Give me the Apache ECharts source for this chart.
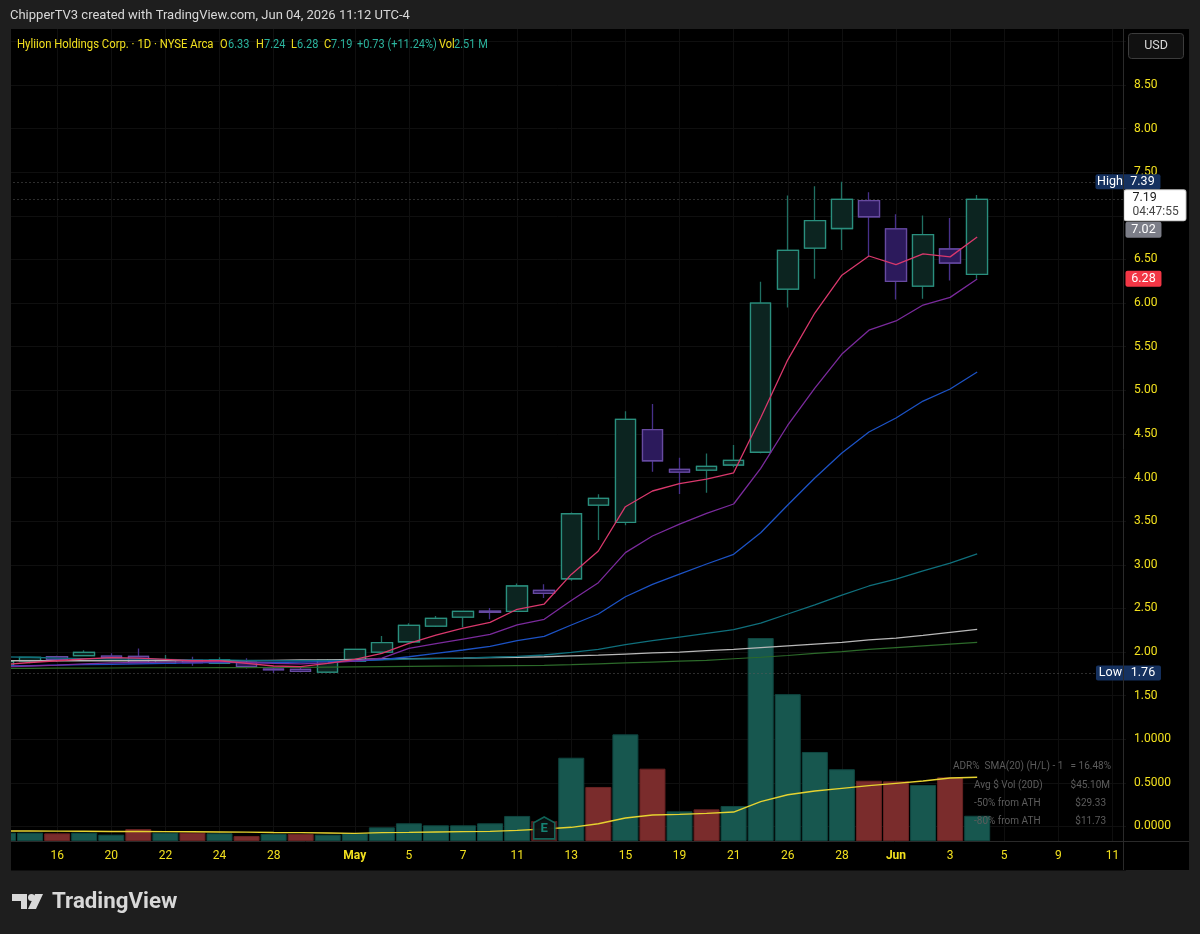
<!DOCTYPE html>
<html>
<head>
<meta charset="utf-8">
<style>html,body{margin:0;padding:0;background:#1e1e1e;overflow:hidden;width:1200px;height:934px}#c{position:absolute;left:-20px;top:-10px;width:1220px;height:944px}</style>
<script src="https://cdn.jsdelivr.net/npm/echarts@6/dist/echarts.min.js"></script>
</head>
<body>
<div id="c"></div>
<script>
// Sessions, including the empty ones to the right of the last candle
const categories = ['04-14','04-15','04-16','04-17','04-20','04-21','04-22','04-23','04-24','04-27','04-28','04-29','04-30','05-01','05-04','05-05','05-06','05-07','05-08','05-11','05-12','05-13','05-14','05-15','05-18','05-19','05-20','05-21','05-22','05-26','05-27','05-28','05-29','06-01','06-02','06-03','06-04','06-05','06-08','06-09','06-10','06-11'];
const tickLabels = ['','','16','','20','','22','','24','','28','','','May','','5','','7','','11','','13','','15','','19','','21','','26','','28','','Jun','','3','','5','','9','','11'];

const opens  = [1.85,1.90,1.946,1.958,1.954,1.95,1.87,1.905,1.87,1.881,1.805,1.80,1.77,1.897,2.00,2.118,2.298,2.40,2.47,2.466,2.707,2.84,3.685,3.487,4.55,4.095,4.086,4.144,4.29,6.16,6.63,6.855,7.175,6.85,6.195,6.62,6.33];
const closes = [1.893,1.939,1.912,1.996,1.935,1.878,1.912,1.878,1.912,1.831,1.797,1.779,1.905,2.03,2.107,2.306,2.386,2.466,2.455,2.757,2.673,3.585,3.762,4.667,4.193,4.063,4.129,4.198,6.00,6.605,6.945,7.19,6.99,6.25,6.785,6.46,7.19];
const lows   = [1.85,1.87,1.889,1.955,1.93,1.875,1.87,1.843,1.87,1.81,1.76,1.767,1.76,1.89,2.00,2.118,2.287,2.283,2.375,2.46,2.62,2.817,3.284,3.452,4.067,3.811,3.826,4.117,4.28,5.95,6.28,6.61,6.54,6.04,6.05,6.26,6.28];
const highs  = [1.90,1.94,1.958,2.02,1.985,2.04,1.966,1.946,1.939,1.928,1.83,1.83,1.92,2.035,2.183,2.33,2.413,2.47,2.504,2.787,2.776,3.60,3.81,4.76,4.843,4.227,4.277,4.373,6.245,7.235,7.34,7.39,7.27,7.02,7.005,6.975,7.24];

const maPink   = [1.855,1.88,1.90,1.92,1.935,1.93,1.916,1.90,1.90,1.87,1.84,1.832,1.87,1.916,1.985,2.10,2.195,2.275,2.34,2.49,2.55,2.89,3.158,3.666,3.846,3.93,3.983,4.055,4.686,5.35,5.886,6.32,6.54,6.44,6.565,6.53,6.758];
const maPurple = [1.83,1.84,1.85,1.865,1.875,1.88,1.885,1.885,1.89,1.88,1.87,1.865,1.875,1.897,1.93,2.042,2.096,2.149,2.203,2.31,2.375,2.59,2.795,3.139,3.33,3.467,3.59,3.697,4.106,4.60,5.026,5.416,5.69,5.795,5.978,6.066,6.276];
const maBlue   = [1.84,1.845,1.85,1.855,1.86,1.865,1.87,1.875,1.88,1.88,1.88,1.885,1.89,1.897,1.912,1.946,1.985,2.023,2.065,2.13,2.18,2.31,2.436,2.634,2.776,2.894,3.009,3.12,3.368,3.685,3.995,4.281,4.522,4.683,4.877,5.015,5.21];
const maTeal   = [1.945,1.94,1.93,1.925,1.92,1.92,1.915,1.91,1.91,1.905,1.90,1.90,1.90,1.905,1.91,1.92,1.925,1.93,1.94,1.95,1.966,1.996,2.03,2.084,2.13,2.172,2.214,2.256,2.33,2.436,2.54,2.653,2.757,2.837,2.93,3.02,3.124];
const maWhite  = [1.90,1.90,1.90,1.90,1.90,1.90,1.90,1.90,1.90,1.90,1.905,1.91,1.91,1.916,1.92,1.925,1.928,1.93,1.935,1.94,1.946,1.955,1.965,1.977,1.99,2.00,2.015,2.03,2.05,2.07,2.09,2.11,2.14,2.16,2.19,2.225,2.26];
const maGreen  = [1.813,1.813,1.815,1.815,1.817,1.82,1.82,1.82,1.822,1.822,1.825,1.825,1.828,1.83,1.832,1.835,1.838,1.84,1.842,1.845,1.847,1.855,1.865,1.875,1.885,1.895,1.905,1.923,1.94,1.96,1.985,2.005,2.03,2.05,2.07,2.09,2.11];

// Volume in millions of shares
const volumes = [0.83,0.83,0.76,0.83,0.63,1.19,0.83,0.83,0.76,0.5,0.7,0.7,0.63,0.76,1.36,1.76,1.56,1.56,1.76,2.49,1.99,8.28,5.37,10.6,7.19,2.95,3.15,3.48,20.18,14.6,8.85,7.13,5.99,5.93,5.57,6.33,2.51];
const volumeUp = [1,1,0,1,1,0,1,0,1,0,1,0,1,1,1,1,1,1,1,1,0,1,0,1,0,1,0,1,1,1,1,1,0,0,1,0,1];
const volumeAvg = [1.0,1.0,0.98,0.97,0.95,0.95,0.93,0.92,0.9,0.88,0.85,0.83,0.8,0.76,0.83,0.86,0.9,0.93,0.96,1.06,1.2,1.36,1.72,2.29,2.58,2.65,2.75,2.88,3.91,4.6,4.97,5.23,5.5,5.73,5.96,6.26,6.33];

const priceLevels = { high: 7.39, last: 7.19, low: 1.76, prev: 7.02, dayLow: 6.28 };
const FONT = 'Roboto, "Liberation Sans", sans-serif';
const YELLOW = '#f2e01e', TEAL = '#2bb39d';
const GRID_LINE = '#0f0f0f';

const chart = echarts.init(document.getElementById('c'), null, { renderer: 'canvas' });

function maSeries(name, data, color, width) {
  return { name, type: 'line', xAxisIndex: 0, yAxisIndex: 0, data, showSymbol: false, symbol: 'none', z: 4, silent: true,
    lineStyle: { color, width }, itemStyle: { color } };
}

// Price badge anchored at the last session; the offset moves it onto the price scale
function badge(value, dx, dy, formatter, extra) {
  return { coord: ['06-11', value], symbol: 'circle', symbolSize: 1, itemStyle: { color: 'rgba(0,0,0,0)' },
    label: Object.assign({ show: true, position: 'inside', offset: [dx, dy], formatter, fontFamily: FONT, fontSize: 12.5, color: '#fff', borderRadius: 2 }, extra) };
}

const wickData = opens.map((o, i) => [o, closes[i], lows[i], highs[i]]);
const bodyData = opens.map((o, i) => [o, closes[i], Math.min(o, closes[i]), Math.max(o, closes[i])]);

const option = {
  animation: false,
  backgroundColor: '#1e1e1e',
  grid: [
    { left: 9.5, width: 1136.5, top: 7.8, height: 872.3 },
    { left: 9.5, width: 1136.5, top: 39, height: 812 }
  ],
  xAxis: [
    { type: 'category', gridIndex: 0, data: categories, show: false },
    { type: 'category', gridIndex: 1, data: categories,
      axisLine: { show: false }, axisTick: { show: false },
      axisLabel: { interval: 0, margin: 9, color: YELLOW, fontFamily: FONT, fontSize: 12,
        formatter: (v, i) => /[A-Z]/.test(tickLabels[i]) ? '{b|' + tickLabels[i] + '}' : tickLabels[i],
        rich: { b: { color: YELLOW, fontFamily: FONT, fontSize: 12, fontWeight: 'bold' } } },
      splitLine: { show: true, alignWithLabel: true, interval: (i) => tickLabels[i] !== '', lineStyle: { color: GRID_LINE, width: 1 } } }
  ],
  yAxis: [
    { type: 'value', gridIndex: 0, position: 'right', min: -0.5, max: 9.5, interval: 0.5,
      axisLine: { show: false }, axisTick: { show: false },
      splitLine: { show: true, lineStyle: { color: GRID_LINE, width: 1 } },
      axisLabel: { margin: 8, color: YELLOW, fontFamily: FONT, fontSize: 12, align: 'left',
        formatter: (v) => v < 0 ? '' : (v < 1.5 ? v.toFixed(4) : v.toFixed(2)) } },
    { type: 'value', gridIndex: 1, min: 0, max: 80.72, show: false, splitLine: { show: false } }
  ],
  series: [
    { name: 'Volume', type: 'bar', xAxisIndex: 1, yAxisIndex: 1, barWidth: 26, z: 1, silent: true,
      data: volumes.map((v, i) => ({ value: v, itemStyle: volumeUp[i]
        ? { color: '#17574f', borderColor: '#0f4640', borderWidth: 1 }
        : { color: '#7a2c2c', borderColor: '#672222', borderWidth: 1 } })) },
    { name: 'Volume average', type: 'line', xAxisIndex: 1, yAxisIndex: 1, data: volumeAvg, showSymbol: false, symbol: 'none', z: 3, silent: true,
      lineStyle: { color: '#e6d330', width: 1.4 } },
    { name: 'Earnings', type: 'scatter', xAxisIndex: 1, yAxisIndex: 1, z: 5, silent: true,
      data: [['05-12', 1.3]], symbol: 'path://M12 0 L24 7 V26 H0 V7 Z', symbolSize: [21, 22],
      itemStyle: { color: '#0b1716', borderColor: '#137a6c', borderWidth: 1.6, shadowColor: '#000', shadowBlur: 3 },
      label: { show: true, position: 'inside', formatter: 'E', color: '#16a08d', fontFamily: FONT, fontSize: 13, fontWeight: 'bold', offset: [0, 1] } },
    { name: 'Range', type: 'candlestick', xAxisIndex: 0, yAxisIndex: 0, barWidth: 21, z: 2, silent: true, data: wickData,
      itemStyle: { color: 'transparent', color0: 'transparent', borderColor: '#1f6f62', borderColor0: '#47308a', borderWidth: 1.3 },
      markLine: { silent: true, symbol: 'none', z: 2, animation: false, label: { show: false },
        lineStyle: { color: '#5a5a5a', type: [1, 3], width: 1 },
        data: [{ yAxis: priceLevels.high }, { yAxis: priceLevels.last }, { yAxis: priceLevels.low }] },
      markPoint: { silent: true, z: 60, animation: false, data: [
        badge(priceLevels.high, 15.5, 0, '{h|High}{v|' + priceLevels.high.toFixed(2) + '}', {
          backgroundColor: '#15315f', rich: { h: { color: '#fff', fontFamily: FONT, fontSize: 12.5, width: 29, align: 'center', height: 15 }, v: { color: '#fff', fontFamily: FONT, fontSize: 12.5, width: 36, align: 'center', height: 15 } } }),
        badge(priceLevels.low, 16, 0, '{h|Low}{v|' + priceLevels.low.toFixed(2) + '}', {
          backgroundColor: '#15315f', rich: { h: { color: '#fff', fontFamily: FONT, fontSize: 12.5, width: 29, align: 'center', height: 15 }, v: { color: '#fff', fontFamily: FONT, fontSize: 12.5, width: 36, align: 'center', height: 15 } } }),
        badge(priceLevels.prev, 31, 15.5, priceLevels.prev.toFixed(2), { backgroundColor: '#7c7e88', padding: [2, 7, 1, 7], width: 22, align: 'center' }),
        badge(priceLevels.dayLow, 31, 0, priceLevels.dayLow.toFixed(2), { backgroundColor: '#f23645', padding: [2, 7, 1, 7], width: 22, align: 'center' }),
        badge(priceLevels.last, 42.5, 6, '{a|' + priceLevels.last.toFixed(2) + '}\n{b|04:47:55}', {
          backgroundColor: '#fff', borderColor: '#c8c8c8', borderWidth: 1, padding: [1, 4, 1, 8],
          rich: { a: { color: '#1a1a1a', fontFamily: FONT, fontSize: 12.5, lineHeight: 14, width: 49, align: 'left' }, b: { color: '#444', fontFamily: FONT, fontSize: 12, lineHeight: 14, width: 49, align: 'left' } } })
      ] } },
    { name: 'Body', type: 'candlestick', xAxisIndex: 0, yAxisIndex: 0, barWidth: 21, z: 3, silent: true, data: bodyData,
      itemStyle: { color: '#0c2420', color0: '#2c1a5c', borderColor: '#2a8f7e', borderColor0: '#674aa0', borderWidth: 1.3 } },
    maSeries('SMA 200', maGreen, '#2c6a2a', 1.2),
    maSeries('SMA 100', maWhite, '#b8b8b8', 1.3),
    maSeries('SMA 50', maTeal, '#0f6f7c', 1.3),
    maSeries('EMA 20', maBlue, '#1c52c4', 1.3),
    maSeries('EMA 10', maPurple, '#7a2a9c', 1.3),
    maSeries('EMA 5', maPink, '#d9386c', 1.3)
  ],
  graphic: { elements: [
    // The canvas overhangs the page by 20px left and 10px up so the first session can run off the pane
    { type: 'rect', z: -1, silent: true, shape: { x: 31, y: 39, width: 1178, height: 841 }, style: { fill: '#000' } },
    { type: 'rect', z: 100, silent: true, shape: { x: 0, y: 0, width: 31, height: 944 }, style: { fill: '#1e1e1e' } },
    { type: 'rect', z: 100, silent: true, shape: { x: 0, y: 0, width: 1220, height: 39 }, style: { fill: '#1e1e1e' } },
    { type: 'group', x: 20, y: 10, z: 100, children: [
      { type: 'line', z: 100, silent: true, shape: { x1: 1123.5, y1: 29, x2: 1123.5, y2: 870 }, style: { stroke: '#2a2a2a', lineWidth: 1 } },
      { type: 'line', z: 100, silent: true, shape: { x1: 11, y1: 841.5, x2: 1189, y2: 841.5 }, style: { stroke: '#2a2a2a', lineWidth: 1 } },
      { type: 'text', z: 101, silent: true, x: 10, y: 16, style: { text: 'ChipperTV3 created with TradingView.com, Jun 04, 2026 11:12 UTC-4', fill: '#d8d8d8', font: '13px ' + FONT, verticalAlign: 'middle' } },
      // Legend: tall condensed lettering
      { type: 'text', z: 101, silent: true, x: 17, y: 45, scaleX: 0.905, style: { text: 'Hyliion Holdings Corp. · 1D · NYSE Arca', fill: YELLOW, font: '12.5px ' + FONT, verticalAlign: 'middle' } },
      ...[[220,'O',YELLOW],[228,'6.33',TEAL],[256,'H',YELLOW],[264,'7.24',TEAL],[291,'L',YELLOW],[297,'6.28',TEAL],[324,'C',YELLOW],[331,'7.19',TEAL],[357,'+0.73 (+11.24%)',TEAL],[439,'Vol',YELLOW],[454,'2.51 M',TEAL]].map(([x, text, fill]) => (
        { type: 'text', z: 101, silent: true, x, y: 45, scaleX: 0.88, style: { text, fill, font: '12.5px ' + FONT, verticalAlign: 'middle' } })),
      { type: 'rect', z: 100, silent: true, shape: { x: 1128.5, y: 33.5, width: 55, height: 25, r: 3 }, style: { fill: '#111', stroke: '#3c3c3c', lineWidth: 1 } },
      { type: 'text', z: 101, silent: true, x: 1156, y: 46, style: { text: 'USD', fill: '#d8d8d8', font: '12.5px ' + FONT, align: 'center', verticalAlign: 'middle' } },
      ...[[953,766,'ADR%  SMA(20) (H/L) - 1','left'],[1111,766,'= 16.48%','right'],[974,785,'Avg $ Vol (20D)','left'],[1110,785,'$45.10M','right'],[974,803,'-50% from ATH','left'],[1106,803,'$29.33','right'],[974,821,'-80% from ATH','left'],[1106,821,'$11.73','right']].map(([x, y, text, align]) => (
        { type: 'text', z: 101, silent: true, x, y, style: { text, fill: '#5c5c5c', font: '10px ' + FONT, align, verticalAlign: 'middle' } })),
      // TradingView mark: flag, slash and dot
      { type: 'polygon', z: 101, silent: true, shape: { points: [[12,894],[27,894],[27,909],[21,909],[21,901],[12,901]] }, style: { fill: '#d8d8d8' } },
      { type: 'polygon', z: 101, silent: true, shape: { points: [[35,894],[43,894],[36,909],[28,909]] }, style: { fill: '#d8d8d8' } },
      { type: 'circle', z: 101, silent: true, shape: { cx: 31.5, cy: 897.5, r: 3.5 }, style: { fill: '#d8d8d8' } },
      { type: 'text', z: 101, silent: true, x: 52, y: 902, style: { text: 'TradingView', fill: '#d8d8d8', font: 'bold 22.3px ' + FONT, verticalAlign: 'middle' } }
    ] }
  ] }
};
chart.setOption(option);
</script>
</body>
</html>
